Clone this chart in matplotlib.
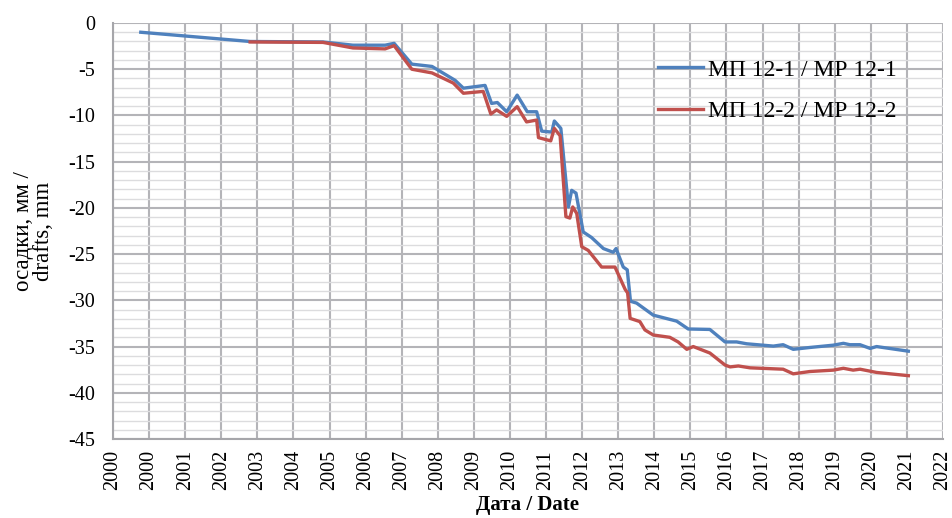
import matplotlib
matplotlib.use("Agg")
import matplotlib.pyplot as plt
from matplotlib.ticker import MultipleLocator, FixedLocator

# Measurement dates (decimal axis position, one unit per tick interval) and settlements, mm
t_12_1 = [2000.77, 2003.80, 2005.82, 2006.65, 2007.54, 2007.79, 2008.28, 2008.84,
          2009.48, 2009.71, 2010.31, 2010.49, 2010.65, 2010.91, 2011.20, 2011.48,
          2011.74, 2011.88, 2012.16, 2012.23, 2012.41, 2012.62, 2012.71, 2012.83,
          2013.03, 2013.26, 2013.59, 2013.86, 2013.94, 2014.14, 2014.25, 2014.34,
          2014.51, 2014.97, 2015.62, 2015.94, 2016.54, 2016.96, 2017.28, 2017.56,
          2018.30, 2018.57, 2018.85, 2019.31, 2019.96, 2020.24, 2020.42, 2020.70,
          2020.98, 2021.16, 2022.04]
s_12_1 = [-1.0, -2.0, -2.05, -2.4, -2.4, -2.2, -4.45, -4.7,
          -6.2, -7.05, -6.75, -8.7, -8.6, -9.6, -7.8, -9.6,
          -9.6, -11.7, -11.8, -10.6, -11.4, -19.9, -18.1, -18.4,
          -22.6, -23.2, -24.4, -24.8, -24.4, -26.4, -26.7, -30.1,
          -30.3, -31.6, -32.25, -33.1, -33.15, -34.5, -34.5, -34.7,
          -34.95, -34.8, -35.3, -35.1, -34.85, -34.65, -34.8, -34.8,
          -35.2, -35.0, -35.5]

t_12_2 = [2003.80, 2005.82, 2006.65, 2007.54, 2007.79, 2008.28, 2008.84, 2009.43,
          2009.71, 2010.26, 2010.47, 2010.63, 2010.91, 2011.20, 2011.46, 2011.74,
          2011.79, 2012.13, 2012.23, 2012.39, 2012.55, 2012.66, 2012.74, 2012.85,
          2012.99, 2013.17, 2013.54, 2013.91, 2014.05, 2014.19, 2014.26, 2014.33,
          2014.60, 2014.74, 2014.97, 2015.43, 2015.66, 2015.90, 2016.08, 2016.54,
          2016.96, 2017.10, 2017.33, 2017.65, 2018.57, 2018.85, 2019.31, 2019.96,
          2020.24, 2020.51, 2020.70, 2021.16, 2022.04]
s_12_2 = [-2.05, -2.1, -2.7, -2.8, -2.45, -5.0, -5.4, -6.5,
          -7.6, -7.4, -9.85, -9.4, -10.1, -9.05, -10.7, -10.5,
          -12.4, -12.75, -11.4, -12.2, -20.95, -21.1, -19.9, -20.6,
          -24.2, -24.6, -26.4, -26.4, -27.6, -28.8, -29.2, -31.95,
          -32.3, -33.2, -33.75, -34.0, -34.5, -35.3, -35.0, -35.7,
          -37.0, -37.2, -37.1, -37.3, -37.45, -37.95, -37.7, -37.55,
          -37.35, -37.55, -37.45, -37.8, -38.15]

series_names = ["МП 12-1 / МР 12-1", "МП 12-2 / МР 12-2"]
tick_labels = ["2000", "2000", "2001", "2002", "2003", "2004", "2005", "2006",
               "2007", "2008", "2009", "2010", "2011", "2012", "2013", "2014",
               "2015", "2016", "2017", "2018", "2019", "2020", "2021", "2022"]
y_ticks = [0, -5, -10, -15, -20, -25, -30, -35, -40, -45]

plt.rcParams["font.family"] = ["Liberation Serif", "DejaVu Serif"]

fig = plt.figure(figsize=(9.52, 5.18), dpi=100)
ax = fig.add_axes([113 / 952, 1 - 439 / 518, 830 / 952, 416 / 518])

ax.plot(t_12_1, s_12_1, color="#4F81BD", lw=2.4, label=series_names[0],
        solid_joinstyle="round", zorder=3)
ax.plot(t_12_2, s_12_2, color="#C0504D", lw=2.4, label=series_names[1],
        solid_joinstyle="round", zorder=3)

ax.set_xlim(2000, 2023)
ax.set_ylim(-45, 0)
ax.xaxis.set_major_locator(FixedLocator([2000 + i for i in range(len(tick_labels))]))
ax.set_xticklabels(tick_labels, rotation=90, fontsize=14.5)
ax.set_yticks(y_ticks)
ax.set_yticklabels([str(v) for v in y_ticks], fontsize=14.5)
ax.yaxis.set_minor_locator(MultipleLocator(1))

ax.grid(which="major", axis="both", color="#B4B4B8", lw=1.5, zorder=0)
ax.grid(which="minor", axis="y", color="#DCDCDE", lw=1.0, zorder=0)
ax.set_axisbelow(True)
ax.tick_params(which="both", length=0)
ax.tick_params(axis="y", pad=13)
ax.tick_params(axis="x", pad=8)

for side in ("top", "right"):
    ax.spines[side].set_visible(False)
for side in ("left", "bottom"):
    ax.spines[side].set_color("#A6A6AA")
    ax.spines[side].set_linewidth(1.5)

ax.set_xlabel("Дата / Date", fontsize=15, fontweight="bold", labelpad=3)
ax.set_ylabel("осадки, мм /\ndrafts, mm", fontsize=16.5, labelpad=10, linespacing=0.95)

ax.legend(loc="upper left", bbox_to_anchor=(658 / 952, 1 - 59 / 518),
          bbox_transform=fig.transFigure, frameon=False, fontsize=17,
          handlelength=1.9, handletextpad=0.2, labelspacing=0.85,
          borderpad=0, borderaxespad=0)

fig.savefig("out.png", dpi=100)
